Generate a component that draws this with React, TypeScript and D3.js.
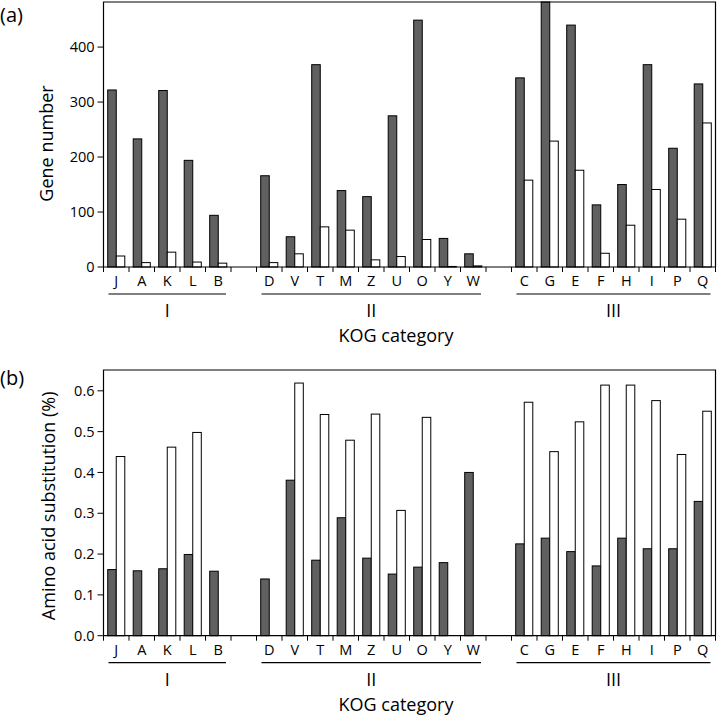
import React from 'react'
import * as d3 from 'd3'

const width = 718
const height = 717

// KOG categories, in drawing order, and the functional group each belongs to
const categories = ['J', 'A', 'K', 'L', 'B', 'D', 'V', 'T', 'M', 'Z', 'U', 'O', 'Y', 'W', 'C', 'G', 'E', 'F', 'H', 'I', 'P', 'Q']
const groupNames = ['I', 'II', 'III']
const groupOf = [0, 0, 0, 0, 0, 1, 1, 1, 1, 1, 1, 1, 1, 1, 2, 2, 2, 2, 2, 2, 2, 2]

// (a) gene numbers
const geneDark = [322, 233, 321, 194, 94, 166, 55, 368, 139, 128, 275, 449, 52, 24, 344, 482, 440, 113, 150, 368, 216, 333]
const geneLight = [20, 8, 27, 9, 7, 8, 24, 73, 67, 13, 19, 50, 1, 2, 158, 229, 176, 25, 76, 141, 87, 262]
const geneTicks = [0, 100, 200, 300, 400]

// (b) amino acid substitution (%)
const subDark = [0.162, 0.159, 0.164, 0.199, 0.158, 0.139, 0.381, 0.185, 0.289, 0.19, 0.151, 0.168, 0.179, 0.4, 0.225, 0.239, 0.206, 0.171, 0.239, 0.213, 0.213, 0.329]
const subLight = [0.439, null, 0.462, 0.498, null, null, 0.619, 0.542, 0.479, 0.543, 0.307, 0.535, null, null, 0.572, 0.451, 0.524, 0.614, 0.614, 0.576, 0.444, 0.55]
const subTicks = [0, 0.1, 0.2, 0.3, 0.4, 0.5, 0.6]

const font = '"Open Sans", sans-serif'
const left = 103.5
const right = 715.5

// slots: one per category plus one empty slot between groups
const slots: string[] = []
categories.forEach((c, i) => {
    if (i > 0 && groupOf[i] !== groupOf[i - 1]) slots.push('gap' + groupOf[i])
    slots.push(c)
})

const x = d3.scaleBand<string>().domain(slots).range([left, right])

function Panel({ label, title, top, bottom, max, dark, light, ticks, fmt, labelY }: any) {
    const y = d3.scaleLinear().domain([0, max]).range([bottom, top])
    const bw = x.bandwidth()
    const barW = bw * 0.335
    const boundaries = d3.range(slots.length + 1).map((i) => left + i * bw)
    const catY = bottom + 19
    const lineY = bottom + 27
    return (
        <g>
            <text x={0} y={labelY} fontSize={20} fontFamily={font}>{label}</text>
            {categories.map((c, i) => {
                const cx = (x(c) as number) + bw / 2
                return (
                    <g key={c}>
                        <rect x={cx - barW} y={y(dark[i])} width={barW} height={bottom - y(dark[i])}
                            fill="#606060" stroke="#000" strokeWidth={1} />
                        {light[i] != null && (
                            <rect x={cx} y={y(light[i])} width={barW} height={bottom - y(light[i])}
                                fill="#fff" stroke="#000" strokeWidth={1} />
                        )}
                        <text x={cx} y={catY} textAnchor="middle" fontSize={14.5} fontFamily={font}>{c}</text>
                    </g>
                )
            })}
            {/* frame */}
            <path d={`M${left},${bottom}V${top}H${right}V${bottom}`} fill="none" stroke="#000" strokeWidth={1.2} />
            <line x1={left} x2={right} y1={bottom} y2={bottom} stroke="#000" strokeWidth={1.2} />
            {boundaries.map((bx, i) => (
                <line key={i} x1={bx} x2={bx} y1={bottom} y2={bottom + 5} stroke="#000" strokeWidth={1} />
            ))}
            {ticks.map((t: number) => (
                <g key={t}>
                    <line x1={left - 6} x2={left} y1={y(t)} y2={y(t)} stroke="#000" strokeWidth={1} />
                    <text x={left - 9} y={y(t)} dy="0.35em" textAnchor="end" fontSize={14.5} fontFamily={font}>{fmt(t)}</text>
                </g>
            ))}
            {groupNames.map((g, gi) => {
                const cats = categories.filter((_, i) => groupOf[i] === gi)
                const x0 = (x(cats[0]) as number) + 5
                const x1 = (x(cats[cats.length - 1]) as number) + bw - 5
                return (
                    <g key={g}>
                        <line x1={x0} x2={x1} y1={lineY} y2={lineY} stroke="#000" strokeWidth={1.2} />
                        <text x={(x0 + x1) / 2} y={bottom + 50} textAnchor="middle" fontSize={18} fontFamily={font}>{g}</text>
                    </g>
                )
            })}
            <text x={396} y={bottom + 75} textAnchor="middle" fontSize={18} fontFamily={font}>KOG category</text>
            <text transform={`translate(${title.x},${(top + bottom) / 2 + title.dy}) rotate(-90)`} textAnchor="middle"
                fontSize={18} fontFamily={font}>{title.text}</text>
        </g>
    )
}

export default function App() {
    return (
        <svg width={width} height={height} style={{ position: 'absolute', left: 0, top: 0, background: '#fff' }}>
            <Panel label="(a)" labelY={22} title={{ text: 'Gene number', x: 53, dy: 9 }}
                top={2} bottom={267} max={482} dark={geneDark} light={geneLight}
                ticks={geneTicks} fmt={d3.format('d')} />
            <Panel label="(b)" labelY={385} title={{ text: 'Amino acid substitution (%)', x: 55, dy: 3 }}
                top={370} bottom={635.7} max={0.651} dark={subDark} light={subLight}
                ticks={subTicks} fmt={d3.format('.1f')} />
        </svg>
    )
}
